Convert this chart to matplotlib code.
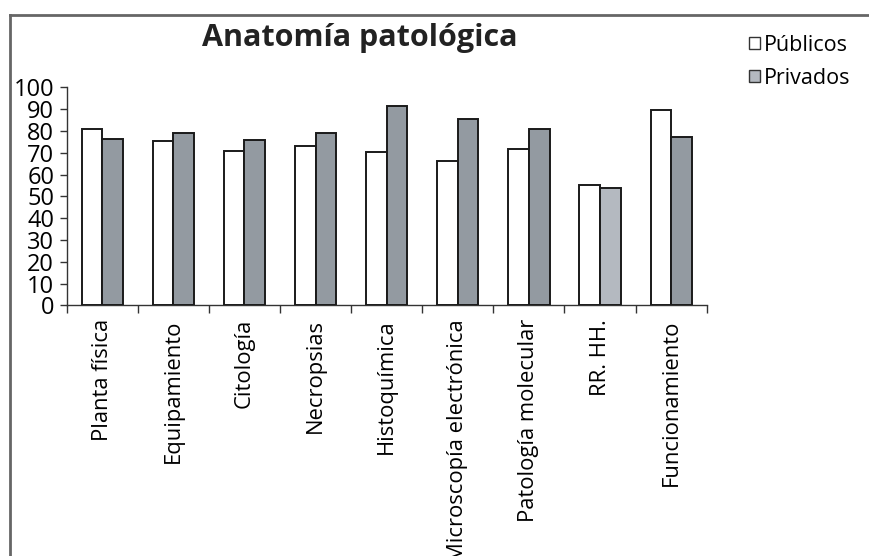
import matplotlib
matplotlib.use("Agg")
import matplotlib.pyplot as plt
from matplotlib.patches import Patch
from matplotlib.lines import Line2D
import numpy as np

plt.rcParams['font.family'] = ['Open Sans', 'DejaVu Sans']

categories = ["Planta física", "Equipamiento", "Citología", "Necropsias", "Histoquímica",
              "Microscopía electrónica", "Patología molecular", "RR. HH.", "Funcionamiento"]
publicos = [81, 75.5, 71, 73, 70.3, 66.3, 71.7, 55.2, 89.7]
privados = [76.4, 78.9, 75.7, 78.9, 91.3, 85.6, 81, 53.8, 77.2]
yticks = [0, 10, 20, 30, 40, 50, 60, 70, 80, 90, 100]

W, H = 869, 556
fig = plt.figure(figsize=(W / 100, H / 100), dpi=100)
ax = fig.add_axes([66.7 / W, 1 - 305.3 / H, 640 / W, 218 / H])

x = np.arange(len(categories))
bw = 0.29
dark = "#939aa1"
light = "#b4b9c0"
priv_colors = [dark] * len(categories)
priv_colors[7] = light
ax.bar(x - bw / 2, publicos, bw, color="white", edgecolor="#1a1a1a", linewidth=1.4, zorder=3)
ax.bar(x + bw / 2, privados, bw, color=priv_colors, edgecolor="#1a1a1a", linewidth=1.4, zorder=3)

ax.set_xlim(-0.5, len(categories) - 0.5)
ax.set_ylim(0, 100)
ax.set_yticks(yticks)
ax.set_yticklabels([str(v) for v in yticks], fontsize=17)
ax.set_xticks(x)
ax.set_xticklabels(categories, rotation=90, fontsize=15.8, va="top", ha="center")
ax.set_xticks(np.arange(len(categories) + 1) - 0.5, minor=True)
ax.tick_params(axis="x", which="major", length=0, pad=10)
ax.tick_params(axis="x", which="minor", length=6, width=1, direction="out", color="#333")
ax.tick_params(axis="y", length=5, width=1, direction="out", color="#333", pad=4)
for s in ["top", "right"]:
    ax.spines[s].set_visible(False)
for s in ["left", "bottom"]:
    ax.spines[s].set_color("#333")
    ax.spines[s].set_linewidth(1)

fig.text(360 / W, 1 - 38 / H, "Anatomía patológica", fontsize=22, fontweight="bold",
         ha="center", va="center", color="#222")

handles = [Patch(facecolor="white", edgecolor="#333", linewidth=1),
           Patch(facecolor=light, edgecolor="#333", linewidth=1)]
fig.legend(handles, ["Públicos", "Privados"], loc="upper left",
           bbox_to_anchor=(749 / W, 1 - 35 / H), frameon=False, fontsize=15.5,
           handlelength=0.5, handleheight=0.5, handletextpad=0.2, labelspacing=0.55,
           borderaxespad=0, borderpad=0)

# outer frame (left and top edges visible)
fig.add_artist(Line2D([9.5 / W, 9.5 / W], [0, 1 - 15 / H], transform=fig.transFigure,
                      color="#666", linewidth=2))
fig.add_artist(Line2D([9.5 / W, 1], [1 - 15 / H, 1 - 15 / H], transform=fig.transFigure,
                      color="#666", linewidth=2))

fig.savefig("out.png", dpi=100)
